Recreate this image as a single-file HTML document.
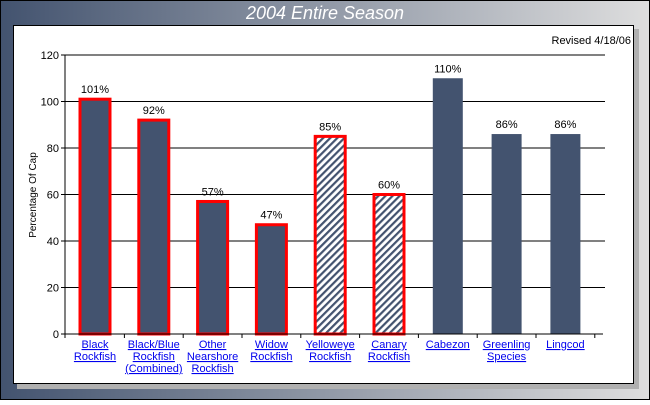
<!DOCTYPE html>
<html><head><meta charset="utf-8"><style>
body{margin:0;width:650px;height:400px;overflow:hidden;font-family:"Liberation Sans",sans-serif}
</style></head><body>
<svg width="650" height="400" xmlns="http://www.w3.org/2000/svg">
<defs>
<linearGradient id="bg" x1="0" x2="1" y1="0" y2="0"><stop offset="0" stop-color="#43536f"/><stop offset="1" stop-color="#dedede"/></linearGradient>
<pattern id="hatch" patternUnits="userSpaceOnUse" width="5" height="5" patternTransform="rotate(45)"><rect width="5" height="5" fill="#fff"/><rect width="2.2" height="5" fill="#43536f"/></pattern>
</defs>
<rect x="0.5" y="0.5" width="649" height="399" fill="url(#bg)" stroke="#000"/>
<text x="325" y="19" text-anchor="middle" font-size="18" font-style="italic" fill="#fff">2004 Entire Season</text>
<rect x="17" y="29" width="622" height="360" fill="#b0b0b0"/>
<rect x="13.5" y="25.5" width="620" height="358" fill="#fff" stroke="#000"/>
<text x="631" y="44" text-anchor="end" font-size="11" fill="#000">Revised 4/18/06</text>
<text transform="translate(36,195) rotate(-90)" text-anchor="middle" font-size="10">Percentage Of Cap</text>
<g id="g"></g>
</svg>
<script>
const categories=[["Black","Rockfish"],["Black/Blue","Rockfish","(Combined)"],["Other","Nearshore","Rockfish"],["Widow","Rockfish"],["Yelloweye","Rockfish"],["Canary","Rockfish"],["Cabezon"],["Greenling","Species"],["Lingcod"]];
const values=[101,92,57,47,85,60,110,86,86];
const hatched=[false,false,false,false,true,true,false,false,false];
const outlined=[true,true,true,true,true,true,false,false,false];
const yTicks=[0,20,40,60,80,100,120];
const NS="http://www.w3.org/2000/svg",g=document.getElementById('g');
const x0=65,x1=603,y0=334,y1=55,ymax=120;
const yS=v=>y0-(v/ymax)*(y0-y1);
const bw=58.8,xStart=65.6;
function mk(t,a,p){const e=document.createElementNS(NS,t);for(const k in a)e.setAttribute(k,a[k]);(p||g).appendChild(e);return e;}
yTicks.forEach(v=>{const y=yS(v);
 if(v>0){const l=mk('line',{x1:x0,x2:x1+2,y1:y,y2:y,stroke:'#000'});}
 const t=mk('line',{x1:x0-4,x2:x0,y1:y,y2:y,stroke:'#000'});
 const tx=mk('text',{x:x0-6,y:y+4,'text-anchor':'end','font-size':11});tx.textContent=v;
 });
values.forEach((v,i)=>{const cx=xStart+bw*(i+0.5),w=30,y=yS(v);
 const r=mk('rect',{x:cx-w/2,y:y,width:w,height:y0-y,fill:hatched[i]?'url(#hatch)':'#43536f'});
 if(outlined[i]){r.setAttribute('stroke','#f00');r.setAttribute('stroke-width','3');}
 
 const vl=mk('text',{x:cx,y:y-6,'text-anchor':'middle','font-size':11});vl.textContent=v+'%';
 
 categories[i].forEach((s,j)=>{const t=mk('text',{x:cx,y:348+j*12,'text-anchor':'middle','font-size':11,fill:'#0000ee','text-decoration':'underline'});t.textContent=s;
  });
 const tk=mk('line',{x1:xStart+bw*(i+1),x2:xStart+bw*(i+1),y1:y0,y2:y0+4,stroke:'#000'});
});
const ax=mk('line',{x1:x0,x2:x1,y1:y0,y2:y0,stroke:'#000'});
const ay=mk('line',{x1:x0,x2:x0,y1:y1,y2:y0+4,stroke:'#000'});
</script>
</body></html>
